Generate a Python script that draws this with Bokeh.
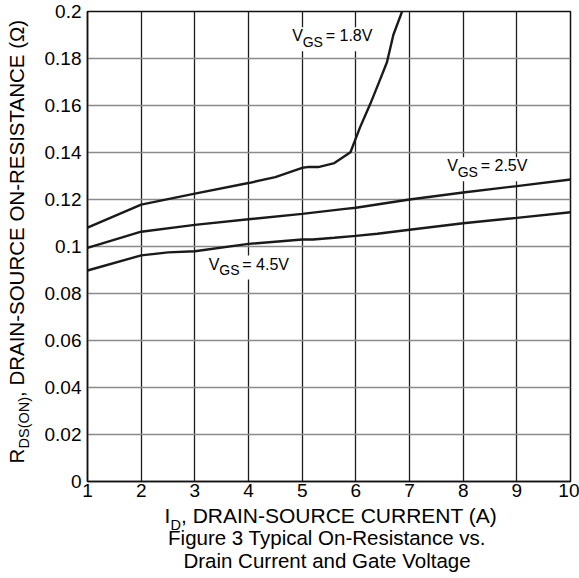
import math
from bokeh.plotting import figure
from bokeh.layouts import row, column
from bokeh.models import Range1d, NumeralTickFormatter, Label, BoxAnnotation
from bokeh.embed import file_html
from bokeh.resources import INLINE

FONT = "Liberation Sans"

# ---- data ----
x_ticks = [1, 2, 3, 4, 5, 6, 7, 8, 9, 10]
y_ticks = [0, 0.02, 0.04, 0.06, 0.08, 0.1, 0.12, 0.14, 0.16, 0.18, 0.2]

id_18 = [1, 2, 3, 4, 4.5, 5.0, 5.1, 5.3, 5.6, 5.9, 6.08, 6.27, 6.42, 6.58, 6.70, 6.87]
r_18 = [0.108, 0.1178, 0.1225, 0.127, 0.1295, 0.1335, 0.1338, 0.1338, 0.1355,
        0.1401, 0.1508, 0.1607, 0.1692, 0.1784, 0.1901, 0.2005]

id_25 = [1, 2, 3, 4, 5, 5.8, 6.0, 7, 8, 9, 10]
r_25 = [0.0994, 0.1063, 0.1092, 0.1116, 0.1139, 0.116, 0.1165, 0.12, 0.123, 0.1257, 0.1285]

id_45 = [1, 2, 2.5, 3, 4, 5, 5.2, 5.6, 6.0, 6.4, 7, 8, 9, 10]
r_45 = [0.0898, 0.0962, 0.0975, 0.098, 0.1011, 0.1030, 0.1030, 0.1037, 0.1045,
        0.1054, 0.1071, 0.1099, 0.1122, 0.1146]

curve_tags = ["1.8V", "2.5V", "4.5V"]

# ---- page geometry (px) ----
W, H = 579, 578
LW = 37            # width of the column holding the rotated y title
MH = 505           # height of the main figure
FL, FR, FT, FB = 87, 570, 11, 481  # frame edges in page px
BASE_FIX = 0.4     # Bokeh draws "alphabetic" text about 0.4em lower than the given point

# ---- main figure ----
p = figure(width=W - LW, height=MH, x_range=Range1d(1, 10), y_range=Range1d(0, 0.2),
           output_backend="svg", toolbar_location=None, title=None,
           min_border_left=FL - LW, min_border_right=W - FR,
           min_border_top=FT, min_border_bottom=MH - FB)
p.background_fill_color = "white"
p.border_fill_color = "white"
p.outline_line_color = "#111111"
p.outline_line_width = 1.5

p.xaxis.ticker = x_ticks
p.yaxis.ticker = y_ticks
p.yaxis.formatter = NumeralTickFormatter(format="0.[00]")
for ax in (p.xaxis, p.yaxis):
    ax.major_tick_in = 0
    ax.major_tick_out = 0
    ax.minor_tick_in = 0
    ax.minor_tick_out = 0
    ax.axis_line_color = "#111111"
    ax.axis_line_width = 1.5
    ax.axis_label_standoff = 0
    ax.major_label_text_font = FONT
    ax.major_label_text_font_size = "19px"
    ax.major_label_text_color = "black"
p.xaxis.major_label_standoff = 2
p.yaxis.major_label_standoff = 6

p.xgrid.grid_line_color = "#1c1c1c"
p.xgrid.grid_line_width = 1.3
p.ygrid.grid_line_color = "#8a8a8a"
p.ygrid.grid_line_width = 1.6

for xs, ys in ((id_18, r_18), (id_25, r_25), (id_45, r_45)):
    p.line(xs, ys, line_color="#1a1a1a", line_width=2.4)


def main_xy(sx, sy):
    return 1 + (sx - FL) * 9 / (FR - FL), (FB - sy) * 0.2 / (FB - FT)


def page_xy(sx, sy):
    return sx, sy


def txt(fig, conv, s, sx, sy, size, rotated=False, align="left"):
    shift = BASE_FIX * size
    if rotated:
        sx -= shift
    else:
        sy -= shift
    x, y = conv(sx, sy)
    fig.add_layout(Label(x=x, y=y, text=s, text_font=FONT,
                         text_font_size=f"{size}px", text_color="black",
                         text_align=align, text_baseline="alphabetic",
                         angle=math.pi / 2 if rotated else 0.0))


# curve labels with white boxes
label_pos = [(291.7, 41.7), (446.7, 171.7), (208.3, 270.0)]
for tag, (sx, sy) in zip(curve_tags, label_pos):
    l, t = main_xy(sx - 4, sy - 15)
    r, b = main_xy(sx + 87, sy + 9)
    p.add_layout(BoxAnnotation(left=l, right=r, top=t, bottom=b, fill_color="white",
                               fill_alpha=1, line_alpha=0))
    txt(p, main_xy, "V", sx, sy, 16)
    txt(p, main_xy, "GS", sx + 10.5, sy + 5, 14)
    txt(p, main_xy, "= " + tag, sx + 33.5, sy, 16)


def blank(width, height, x0, x1, y0, y1, bl=0, br=0):
    f = figure(width=width, height=height, x_range=Range1d(x0, x1),
               y_range=Range1d(y1, y0), output_backend="svg", toolbar_location=None,
               title=None, min_border=0, min_border_left=bl, min_border_right=br,
               min_border_top=0, min_border_bottom=0,
               x_axis_location=None, y_axis_location=None)
    f.outline_line_color = None
    f.background_fill_color = "white"
    f.border_fill_color = "white"
    f.grid.visible = False
    return f


# left column: rotated y title (page coordinates)
yf = blank(LW, H, 0, LW, 0, H)
txt(yf, page_xy, "R", 24, 463, 20.5, rotated=True)
txt(yf, page_xy, "DS(ON)", 29, 448, 14.5, rotated=True)
txt(yf, page_xy, ", DRAIN-SOURCE ON-RESISTANCE (\u03a9)", 24, 396.5, 20.5, rotated=True)

# bottom: x title and caption; frame spans the same page columns as the plot frame
cf = blank(W - LW, H - MH, FL, FR, MH, H, bl=FL - LW, br=W - FR)
txt(cf, page_xy, "I", 164, 523, 21)
txt(cf, page_xy, "D", 170, 530, 14.5)
txt(cf, page_xy, ", DRAIN-SOURCE CURRENT (A)", 180.5, 523, 21)
txt(cf, page_xy, "Figure 3 Typical On-Resistance vs.", 326.5, 545.5, 20.5, align="center")
txt(cf, page_xy, "Drain Current and Gate Voltage", 326.5, 568.5, 20.5, align="center")

layout = row(yf, column(p, cf, spacing=0), spacing=0)
open("out.html", "w").write(file_html(layout, INLINE))
